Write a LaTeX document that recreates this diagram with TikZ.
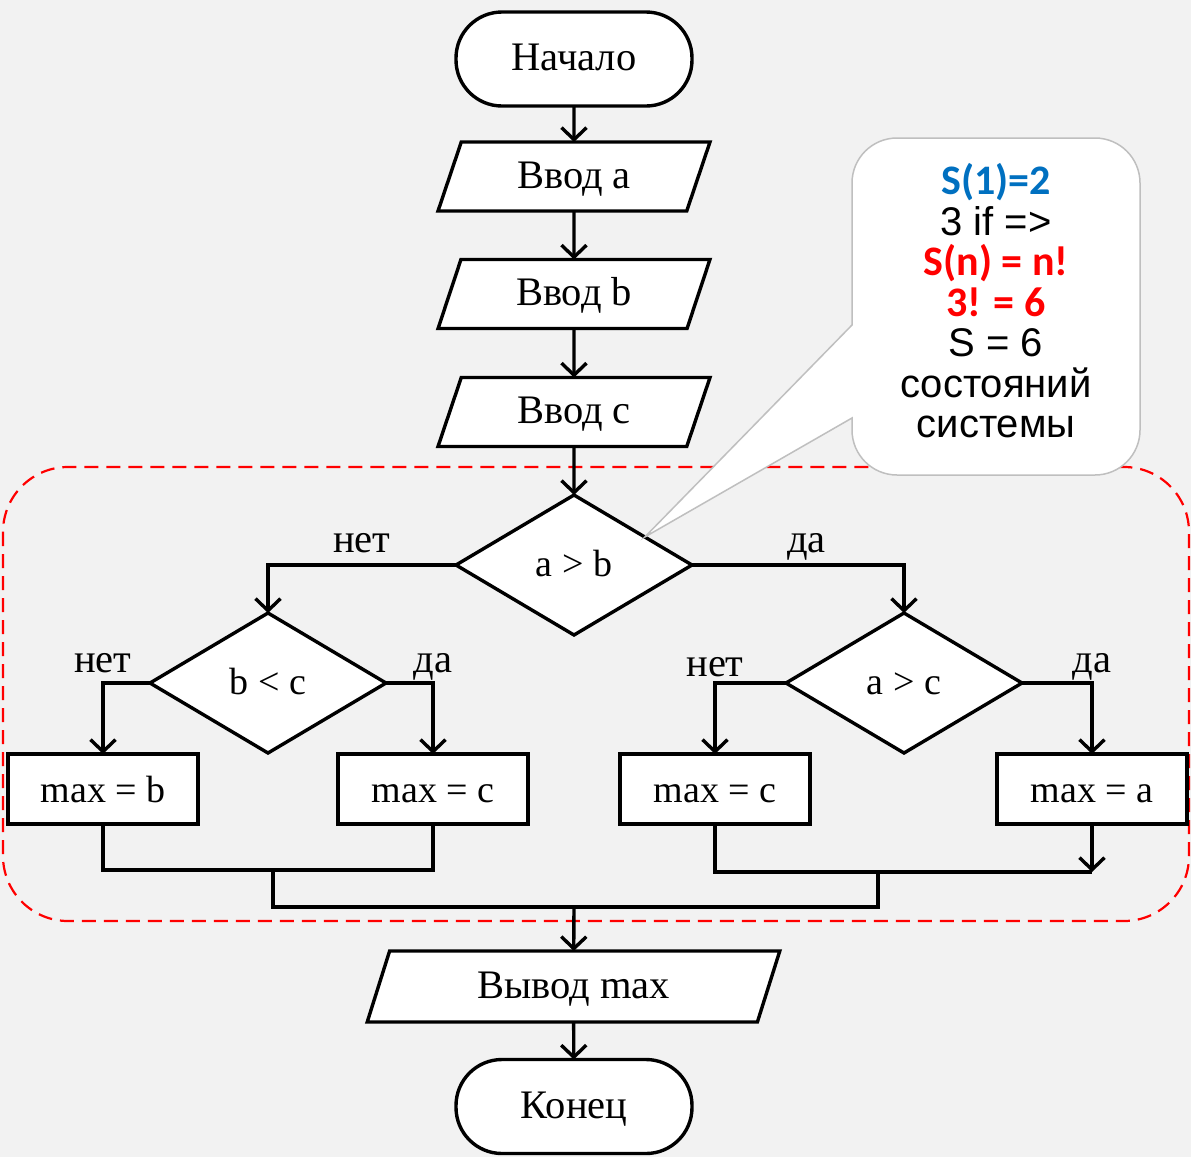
\documentclass[tikz,border=0pt]{standalone}
\usepackage{fontspec}
\setmainfont{Liberation Serif}
\newfontfamily\notefont{Carlito}
\newfontfamily\notesans{Liberation Sans}
\usetikzlibrary{shapes.geometric,arrows.meta,calc}
\definecolor{bg}{HTML}{F2F2F2}
\definecolor{noteblue}{HTML}{0070C0}
\definecolor{notegray}{HTML}{BFBFBF}

\begin{document}
\begin{tikzpicture}[x=1pt,y=-1pt,
  every node/.style={font=\fontsize{40.5}{42}\selectfont, inner sep=0pt, outer sep=0pt},
  blk/.style={draw=black, line width=3.4pt, fill=white, text height=23pt, text depth=0pt},
  term/.style={blk, rectangle, rounded corners=46pt, minimum width=236pt, minimum height=94pt},
  io/.style={blk, trapezium, trapezium left angle=63, trapezium right angle=117,
    trapezium stretches=true, minimum width=272pt, minimum height=69pt},
  cond/.style={blk, diamond, minimum width=236pt, minimum height=140pt,
    font=\fontsize{38}{40}\selectfont},
  proc/.style={blk, rectangle, minimum width=190pt, minimum height=70pt,
    font=\fontsize{38}{40}\selectfont, text height=26pt},
  line/.style={line width=3.4pt},
  arr/.style={line, -{Straight Barb[length=12pt,width=25pt]}},
  lbl/.style={anchor=base},
  frame/.style={draw=red, line width=2.2pt, dash pattern=on 14pt off 8pt, rounded corners=65pt},
  bubble/.style={fill=white, draw=notegray, line width=1.5pt},
  bold/.style={font=\notefont\bfseries\fontsize{42}{40.5}\selectfont},
  plain/.style={font=\notesans\fontsize{40}{40.5}\selectfont}]

% page and background
\useasboundingbox (0,0) rectangle (1191,1157);
\fill[bg] (0,0) rectangle (1191,1157);

% dashed frame around the branching part
\draw[frame] (3,467) rectangle (1189,921);

% flowchart blocks
\node[term] (start) at (574,59) {Начало};
\node[io] (ina) at (574,176.5) {Ввод a};
\node[io] (inb) at (574,294) {Ввод b};
\node[io] (inc) at (574,412) {Ввод c};
\node[cond] (d1) at (574,565) {a > b};
\node[cond] (d2) at (268,683) {b < c};
\node[cond] (d3) at (904,683) {a > c};
\node[proc] (mb) at (103,789) {max = b};
\node[proc] (mc1) at (433,789) {max = c};
\node[proc] (mc2) at (715,789) {max = c};
\node[proc] (ma) at (1092,789) {max = a};
\node[io, minimum width=413pt, minimum height=71pt] (out) at (573.5,986.5) {Вывод max};
\node[term] (stop) at (574,1106.5) {Конец};

% comment bubble pointing at the first condition
\coordinate (tip) at ($(d1.north)!0.6!(d1.east)$);
\filldraw[bubble] (tip) -- (852,325) [rounded corners=45pt] -- (852,138) -- (1140,138)
  -- (1140,475) -- (852,475) [sharp corners] -- (852,418) -- cycle;
\node[plain, align=center] (note) at (996,301)
  {{\notefont\bfseries\fontsize{42}{40.5}\selectfont\color{noteblue}S(1)=2}\\
   3 if =>\\
   {\notefont\bfseries\fontsize{42}{40.5}\selectfont\color{red}S(n) = n!}\\
   {\notefont\bfseries\fontsize{42}{40.5}\selectfont\color{red}3! = 6}\\
   S = 6\\
   состояний\\
   системы};

% main sequence
\draw[arr] (start) -- (ina);
\draw[arr] (ina) -- (inb);
\draw[arr] (inb) -- (inc);
\draw[arr] (inc) -- (d1);

% branches
\draw[arr] (d1.west) -| node[pos=.25, lbl, yshift=13pt] {нет} (d2.north);
\draw[arr] (d1.east) -| node[pos=.27, lbl, yshift=13pt] {да} (d3.north);
\draw[arr] (d2.west) -| node[pos=.5, lbl, yshift=11pt] {нет} (mb.north);
\draw[arr] (d2.east) -| node[pos=.5, lbl, yshift=11pt] {да} (mc1.north);
\draw[arr] (d3.west) -| node[pos=.5, lbl, yshift=7pt] {нет} (mc2.north);
\draw[arr] (d3.east) -| node[pos=.5, lbl, yshift=11pt] {да} (ma.north);

% merging the branches
\coordinate (jl) at (273,870);
\coordinate (jr) at (1092,872);
\coordinate (jm) at (878,872);
\coordinate (jb) at (574,907);
\draw[line] (mb.south) |- (jl) -| (mc1.south);
\draw[line] (mc2.south) |- (jr);
\draw[arr] (ma.south) -- (jr);
\draw[line] (jl) |- (jm |- jb) -- (jm);
\draw[arr] (jb) -- (out);
\draw[arr] (out) -- (stop);
\end{tikzpicture}
\end{document}
